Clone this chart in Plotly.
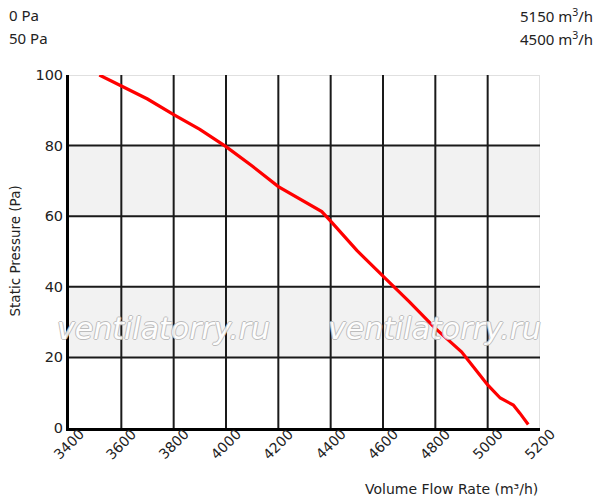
import plotly.graph_objects as go

# Data
flow = [3516, 3600, 3700, 3800, 3900, 4000, 4100, 4200, 4300, 4366, 4400,
        4500, 4600, 4700, 4800, 4900, 4970, 5000, 5048, 5098, 5123, 5155]
pressure = [100, 97.0, 93.2, 88.8, 84.6, 79.7, 74.2, 68.4, 64.1, 61.3, 58.6,
            50.3, 43.0, 35.8, 28.2, 21.6, 15.0, 12.2, 8.5, 6.5, 4.2, 1.0]

x_ticks = [3400, 3600, 3800, 4000, 4200, 4400, 4600, 4800, 5000, 5200]
y_ticks = [0, 20, 40, 60, 80, 100]
gray_bands = [(20, 40), (60, 80)]

left_labels = ["0 Pa", "50 Pa"]
right_labels = ["5150 m<sup>3</sup>/h", "4500 m<sup>3</sup>/h"]
watermark = "ventilatorry.ru"
watermark_x = [3763, 4798]
watermark_y = 28.3

x_title = "Volume Flow Rate (m³/h)"
y_title = "Static Pressure (Pa)"

PW, PH = 471, 353  # plot area size in px

fig = go.Figure()
fig.add_trace(go.Scatter(x=flow, y=pressure, mode="lines",
                         line=dict(color="#ff0000", width=3.2),
                         hoverinfo="skip", showlegend=False))

x0, x1 = x_ticks[0], x_ticks[-1]
y0, y1 = y_ticks[0], y_ticks[-1]
shapes = []
for b0, b1 in gray_bands:
    shapes.append(dict(type="rect", xref="x", yref="y", x0=x0, x1=x1, y0=b0, y1=b1,
                       fillcolor="#f2f2f2", line=dict(width=0), layer="below"))
shapes.append(dict(type="line", xref="x", yref="y", x0=x0, x1=x1, y0=y1, y1=y1,
                   line=dict(color="#e0e0e0", width=2), layer="below"))
shapes.append(dict(type="line", xref="x", yref="y", x0=x1, x1=x1, y0=y0, y1=y1,
                   line=dict(color="#e0e0e0", width=2), layer="below"))
for xv in x_ticks[1:-1]:
    shapes.append(dict(type="line", xref="x", yref="y", x0=xv, x1=xv, y0=y0, y1=y1,
                       line=dict(color="#1a1a1a", width=2), layer="below"))
for yv in y_ticks[1:-1]:
    shapes.append(dict(type="line", xref="x", yref="y", x0=x0, x1=x1, y0=yv, y1=yv,
                       line=dict(color="#1a1a1a", width=2), layer="below"))

txt_font = dict(family="Noto Sans", size=15, color="#222")
annotations = []
for i, t in enumerate(left_labels):
    annotations.append(dict(text=t, xref="paper", yref="paper", x=(7 - 69) / PW,
                            y=1 + (60 - 23 * i) / PH, xanchor="left", yanchor="middle",
                            showarrow=False, font=txt_font))
for i, t in enumerate(right_labels):
    annotations.append(dict(text=t, xref="paper", yref="paper", x=1 + 55 / PW,
                            y=1 + (60 - 23 * i) / PH, xanchor="right", yanchor="middle",
                            showarrow=False, font=txt_font))
for wx in watermark_x:
    annotations.append(dict(text=watermark, xref="x", yref="y", x=wx, y=watermark_y,
                            xanchor="center", yanchor="middle", showarrow=False, opacity=0.9,
                            font=dict(family="DejaVu Sans", size=30, color="#ffffff", style="italic",
                                      shadow="-1px 0 #b8b8b8, 1px 0 #b8b8b8, 0 1px #b8b8b8, 0 -1px #b8b8b8")))
for xv in x_ticks:
    annotations.append(dict(text=str(xv), xref="x", yref="paper", x=xv, y=-16 / PH,
                            xanchor="center", yanchor="middle", textangle=-45, showarrow=False,
                            font=dict(family="DejaVu Sans", size=14, color="#222")))
annotations.append(dict(text=x_title, xref="paper", yref="paper", x=1, y=-(489 - 428) / PH,
                        xanchor="right", yanchor="middle", showarrow=False,
                        font=dict(family="DejaVu Sans", size=14, color="#222")))
annotations.append(dict(text=y_title, xref="paper", yref="paper", x=-(69 - 14) / PW, y=0.5,
                        xanchor="center", yanchor="middle", textangle=-90, showarrow=False,
                        font=dict(family="DejaVu Sans", size=13.5, color="#222")))

W, H = 597, 501
L, T = 69, 75
fig.update_layout(
    width=W, height=H,
    margin=dict(l=L, r=W - L - PW, t=T, b=H - T - PH, pad=0, autoexpand=False),
    paper_bgcolor="white", plot_bgcolor="white",
    shapes=shapes, annotations=annotations,
    xaxis=dict(range=[x0, x1], tickvals=x_ticks, showticklabels=False,
               showgrid=False, zeroline=False, showline=True, linecolor="black", linewidth=3,
               ticks=""),
    yaxis=dict(range=[y0, y1], tickvals=y_ticks,
               showgrid=False, zeroline=False, showline=True, linecolor="black", linewidth=3,
               ticks="", tickfont=dict(family="DejaVu Sans", size=14.5, color="#222"),
               ticklabelstandoff=0),
)

# remove the default 8px page margin so the figure fills the window exactly
fig.write_html("out.html", config={"displayModeBar": False},
               post_script="document.body.style.margin='0';document.body.style.overflow='hidden';")
